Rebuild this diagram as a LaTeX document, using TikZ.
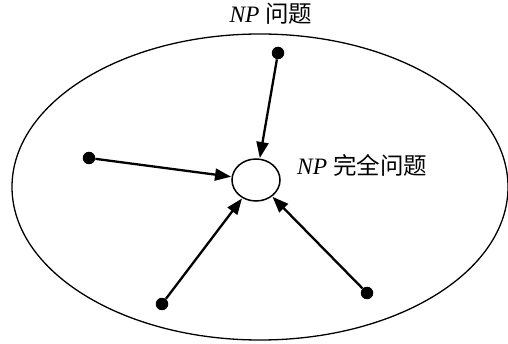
\documentclass[tikz,border=0pt]{standalone}
\usepackage{fontspec}
\setmainfont{Liberation Serif}
\newfontfamily\cjk{Noto Sans CJK SC}
\usetikzlibrary{arrows.meta,shapes.geometric}
\begin{document}
\begin{tikzpicture}[x=1pt,y=-1pt,
  dotnode/.style={circle,fill=black,inner sep=0pt,minimum size=12.5pt},
  link/.style={line width=2.3pt,-{Triangle[length=16pt,width=12pt]},shorten >=0.5pt},
  lbl/.style={font=\fontsize{23.5}{28}\selectfont,inner sep=0pt}]
\useasboundingbox (0,0) rectangle (508,344);
\node[draw,line width=1.3pt,ellipse,minimum width=496pt,minimum height=306pt,inner sep=0pt] (big) at (260,187) {};
\node[draw,line width=1.5pt,ellipse,minimum width=48pt,minimum height=42pt,inner sep=0pt] (np) at (256,180) {};
\node[lbl] (t1) at (271,14) {\textit{NP} {\cjk 问题}};
\node[lbl,anchor=west] (t2) at (297,165) {\textit{NP} {\cjk 完全问题}};
\node[dotnode] (a) at (278,53) {};
\node[dotnode] (b) at (89,158) {};
\node[dotnode] (c) at (162,304) {};
\node[dotnode] (d) at (367,293) {};
\draw[link] (a) -- (np);
\draw[link] (b) -- (np);
\draw[link] (c) -- (np);
\draw[link] (d) -- (np);
\end{tikzpicture}
\end{document}
